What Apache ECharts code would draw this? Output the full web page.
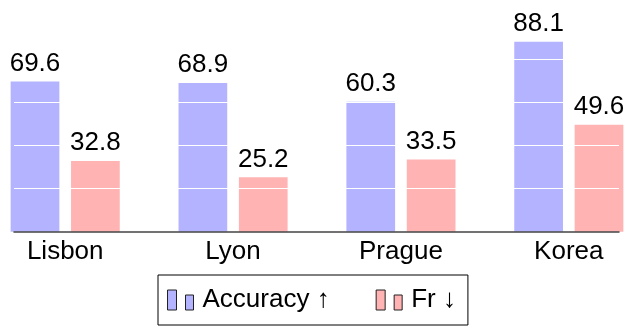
<!DOCTYPE html>
<html>
<head>
<meta charset="utf-8">
<script src="https://cdn.jsdelivr.net/npm/echarts@6/dist/echarts.min.js"></script>
<style>
  html, body { margin: 0; padding: 0; background: #fff; }
  #chart { width: 638px; height: 327px; }
</style>
</head>
<body>
<div id="chart"></div>
<script>
  // data
  const cities = ['Lisbon', 'Lyon', 'Prague', 'Korea'];
  const accuracy = [69.6, 68.9, 60.3, 88.1];
  const fr = [32.8, 25.2, 33.5, 49.6];
  const seriesNames = ['Accuracy ↑', 'Fr ↓'];

  const font = 'Liberation Sans, Arial, sans-serif';
  const legendIcon = 'path://M0,0H9V20H0Z M18,5H26V20H18Z';
  const xMin = -0.305, xMax = 3.299;

  let chart = echarts.init(document.getElementById('chart'));

  // bars sit on axis 0, value labels on a hidden twin axis so they stay above the white grid lines
  function barSeries(name, values, color, axis, withLabel) {
    return {
      name: name,
      type: 'bar',
      xAxisIndex: axis,
      z: withLabel ? 10 : 2,
      barWidth: 48.7,
      barGap: '24%',
      itemStyle: { color: withLabel ? 'rgba(0,0,0,0)' : color },
      label: {
        show: withLabel,
        position: 'top',
        distance: 5,
        color: '#000',
        fontFamily: font,
        fontSize: 26,
        formatter: p => values[p.dataIndex].toFixed(1)
      },
      silent: withLabel,
      data: values.map((v, i) => [i, v])
    };
  }

  let option = {
    animation: false,
    grid: {
      left: 14,
      width: 605,
      top: 16,
      height: 215.7
    },
    xAxis: [
      {
        type: 'value',
        min: xMin,
        max: xMax,
        z: 6,
        axisLine: { show: true, lineStyle: { color: '#444', width: 1.5 } },
        axisTick: { show: false },
        splitLine: { show: false },
        axisLabel: {
          customValues: [0, 1, 2, 3],
          formatter: v => cities[Math.round(v)],
          color: '#000',
          fontFamily: font,
          fontSize: 26,
          margin: 7
        }
      },
      {
        type: 'value',
        min: xMin,
        max: xMax,
        show: false
      }
    ],
    yAxis: {
      type: 'value',
      min: 0,
      max: 100,
      interval: 20,
      z: 5,
      axisLine: { show: false },
      axisTick: { show: false },
      axisLabel: { show: false },
      splitLine: {
        show: true,
        showMinLine: false,
        lineStyle: { color: '#fff', width: 1.2 }
      }
    },
    legend: {
      left: 158,
      top: 275,
      width: 317,
      orient: 'horizontal',
      borderColor: '#000',
      borderWidth: 1,
      borderRadius: 0,
      padding: [12, 12, 12, 9],
      itemGap: 46,
      itemWidth: 26,
      itemHeight: 20,
      icon: legendIcon,
      itemStyle: { borderColor: '#222', borderWidth: 1 },
      textStyle: {
        color: '#000',
        fontFamily: font,
        fontSize: 26,
        padding: [0, 0, 0, 4]
      },
      data: seriesNames
    },
    series: [
      barSeries(seriesNames[0], accuracy, '#b3b3ff', 0, false),
      barSeries(seriesNames[1], fr, '#ffb3b3', 0, false),
      barSeries('acc-labels', accuracy, null, 1, true),
      barSeries('fr-labels', fr, null, 1, true)
    ]
  };

  chart.setOption(option);
</script>
</body>
</html>
